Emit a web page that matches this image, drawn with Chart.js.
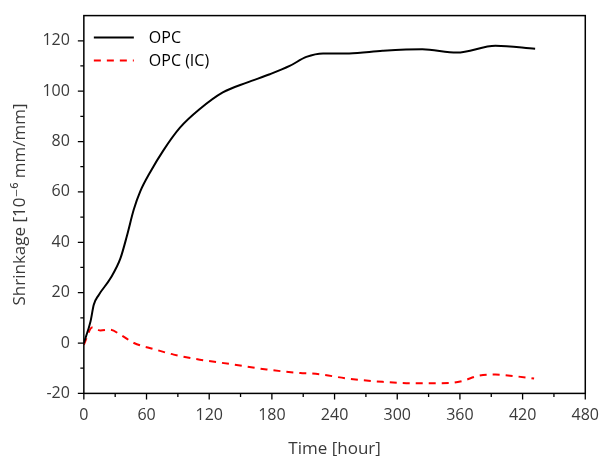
<!DOCTYPE html>
<html>
<head>
<meta charset="utf-8">
<script src="https://cdn.jsdelivr.net/npm/chart.js@4"></script>
<style>
  body { margin: 0; background: #fff; }
  #wrap { width: 603px; height: 456px; }
</style>
</head>
<body>
<div id="wrap"><canvas id="myChart" width="603" height="456"></canvas></div>
<script>
// datos
const opcTime = [0, 6.4, 9.5, 14.3, 25.5, 35, 41.4, 47.8, 54, 63.6, 76, 92, 111, 133, 156, 178, 197, 213, 229, 254, 286, 324, 357, 394, 432];
const opcShrink = [0, 8.6, 15.2, 19.1, 25.7, 33.6, 42.8, 53, 60.2, 67.9, 76.4, 85.5, 92.9, 99.5, 103.4, 106.7, 110, 113.6, 115, 115, 116, 116.6, 115.3, 118, 116.8];
const icTime = [0, 8, 16, 25, 35, 48, 67, 86, 111, 143, 175, 207, 222, 254, 286, 318, 350, 362, 378, 394, 413, 431];
const icShrink = [-0.7, 6.2, 5, 5.3, 3.3, 0, -2.4, -4.6, -6.6, -8.5, -10.5, -11.9, -12.2, -14.2, -15.4, -16, -15.9, -15.1, -13, -12.5, -13.2, -14.1];
const seriesNames = ["OPC", "OPC (IC)"];
const xTickStep = 60;
const yTickStep = 20;

const FONT = "'Open Sans', 'DejaVu Sans', sans-serif";
const TXT = '#3a3a3a';

function toPoints(xs, ys) {
    return xs.map((x, i) => ({ x: x, y: ys[i] }));
}

// marcas de los ejes (mayores y menores) y el marco
const axisTicks = {
    id: 'axisTicks',
    afterDraw(chart) {
        const c = chart.ctx, a = chart.chartArea;
        const xs = chart.scales.x, ys = chart.scales.y;
        c.save();
        c.strokeStyle = '#000';
        c.lineWidth = 1.5;
        c.strokeRect(a.left, a.top, a.right - a.left, a.bottom - a.top);
        c.lineWidth = 1.3;
        c.beginPath();
        for (let v = xs.min; v <= xs.max; v += xTickStep / 2) {
            const p = xs.getPixelForValue(v);
            const len = (v % xTickStep === 0) ? 6 : 3.5;
            c.moveTo(p, a.bottom);
            c.lineTo(p, a.bottom + len);
        }
        for (let v = ys.min; v <= 120; v += yTickStep / 2) {
            const p = ys.getPixelForValue(v);
            const len = (v % yTickStep === 0) ? 6 : 3.5;
            c.moveTo(a.left, p);
            c.lineTo(a.left - len, p);
        }
        c.stroke();
        c.restore();
    }
};

// leyenda dentro del area del grafico
const innerLegend = {
    id: 'innerLegend',
    afterDraw(chart) {
        const c = chart.ctx, a = chart.chartArea;
        c.save();
        chart.data.datasets.forEach((ds, i) => {
            const y = a.top + 22 + i * 23;
            c.strokeStyle = ds.borderColor;
            c.lineWidth = 2;
            c.setLineDash(ds.borderDash || []);
            c.beginPath();
            c.moveTo(a.left + 10, y);
            c.lineTo(a.left + 50, y);
            c.stroke();
            c.setLineDash([]);
            c.fillStyle = '#000';
            c.font = '16px ' + FONT;
            c.textBaseline = 'middle';
            c.fillText(ds.label, a.left + 65, y + 1);
        });
        c.restore();
    }
};

let ctx = document.getElementById('myChart').getContext('2d');
let chart = new Chart(ctx, {
    type: 'line',
    data: {
        datasets: [{
            label: seriesNames[0],
            data: toPoints(opcTime, opcShrink),
            borderColor: '#000000',
            borderWidth: 2,
            pointRadius: 0,
            cubicInterpolationMode: 'monotone',
            fill: false
        }, {
            label: seriesNames[1],
            data: toPoints(icTime, icShrink),
            borderColor: '#ff0000',
            borderWidth: 2,
            borderDash: [7, 6],
            pointRadius: 0,
            cubicInterpolationMode: 'monotone',
            fill: false
        }]
    },
    options: {
        responsive: false,
        animation: false,
        layout: { padding: { top: 10, right: 12, left: 10, bottom: 0 } },
        plugins: {
            legend: { display: false },
            tooltip: { enabled: false }
        },
        scales: {
            x: {
                type: 'linear',
                min: 0,
                max: 480,
                grid: { display: false },
                border: { display: false },
                ticks: {
                    stepSize: xTickStep,
                    padding: 4,
                    color: TXT,
                    font: { family: FONT, size: 16 },
                    maxRotation: 0
                },
                title: {
                    display: true,
                    text: 'Time [hour]',
                    color: TXT,
                    font: { family: FONT, size: 17 },
                    padding: { top: 10, bottom: -3 }
                }
            },
            y: {
                type: 'linear',
                min: -20,
                max: 130,
                grid: { display: false },
                border: { display: false },
                ticks: {
                    stepSize: yTickStep,
                    padding: 6,
                    color: TXT,
                    font: { family: FONT, size: 16 },
                    callback: v => (v > 120 ? '' : v)
                },
                title: {
                    display: true,
                    text: 'Shrinkage [10\u207B\u2076 mm/mm]',
                    color: TXT,
                    font: { family: FONT, size: 17 },
                    padding: { top: 0, bottom: 6 }
                }
            }
        }
    },
    plugins: [axisTicks, innerLegend]
});
</script>
</body>
</html>
